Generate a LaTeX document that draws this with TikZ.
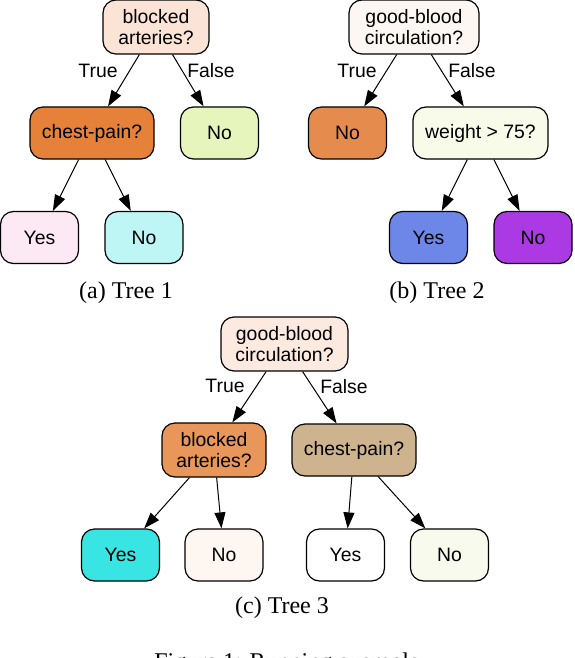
\documentclass[tikz,border=0pt]{standalone}
\usepackage{fontspec}
\setmainfont{Liberation Serif}
\setsansfont{Liberation Sans}
\usepackage{tikz}
\usetikzlibrary{arrows.meta,positioning}
\definecolor{peachA}{RGB}{251,228,214}
\definecolor{orangeA}{RGB}{229,129,57}
\definecolor{greenA}{RGB}{229,245,188}
\definecolor{pinkA}{RGB}{253,233,243}
\definecolor{cyanA}{RGB}{189,246,244}
\definecolor{peachB}{RGB}{253,247,243}
\definecolor{orangeB}{RGB}{230,139,78}
\definecolor{greenB}{RGB}{248,251,234}
\definecolor{blueB}{RGB}{108,135,232}
\definecolor{purpleB}{RGB}{172,58,228}
\definecolor{peachC}{RGB}{252,234,224}
\definecolor{orangeC}{RGB}{233,150,90}
\definecolor{tanC}{RGB}{205,179,142}
\definecolor{cyanC}{RGB}{57,229,226}
\definecolor{creamC}{RGB}{253,246,241}
\definecolor{greenC}{RGB}{247,250,236}

\begin{document}
\begin{tikzpicture}[
  x=0.5pt, y=-0.5pt,
  font=\sffamily\fontsize{9.7}{10.8}\selectfont,
  tn/.style={rectangle, draw, line width=0.6pt, rounded corners=6.5pt,
             minimum height=26pt, inner sep=2pt, align=center},
  leaf/.style={tn, minimum width=39pt},
  lbl/.style={inner sep=0pt},
  subcap/.style={font=\rmfamily\fontsize{12}{14}\selectfont, inner sep=0pt},
  arr/.style={-{Triangle[length=8pt,width=5.5pt]}, line width=0.5pt}
]
  \useasboundingbox (0,0) rectangle (574,658);
  % tree 1
  \node[tn, fill=peachA, minimum width=53pt, minimum height=27pt] (r1) at (156,27) {blocked\\ arteries?};
  \node[tn, fill=orangeA, minimum width=62pt] (cp1) at (92,133) {chest-pain?};
  \node[leaf, fill=greenA] (no1) at (219.5,133) {No};
  \node[leaf, fill=pinkA] (yes1a) at (39.5,237.5) {Yes};
  \node[leaf, fill=cyanA] (no1a) at (144,237.5) {No};
  \draw[arr] (r1) -- (cp1);
  \draw[arr] (r1) -- (no1);
  \draw[arr] (cp1) -- (yes1a);
  \draw[arr] (cp1) -- (no1a);
  \node[lbl] (t1) at (98,71) {True};
  \node[lbl] (f1) at (211,71) {False};
  \node[subcap] (c1) at (126,293) {(a) Tree 1};
  % tree 2
  \node[tn, fill=peachB, minimum width=65pt, minimum height=27pt] (r2) at (414,27) {good-blood\\ circulation?};
  \node[leaf, fill=orangeB] (no2) at (347.5,133) {No};
  \node[tn, fill=greenB, minimum width=67.5pt] (w2) at (480.5,133) {weight > 75?};
  \node[leaf, fill=blueB] (yes2a) at (428.5,237.5) {Yes};
  \node[leaf, fill=purpleB] (no2a) at (533,237.5) {No};
  \draw[arr] (r2) -- (no2);
  \draw[arr] (r2) -- (w2);
  \draw[arr] (w2) -- (yes2a);
  \draw[arr] (w2) -- (no2a);
  \node[lbl] (t2) at (357,71) {True};
  \node[lbl] (f2) at (472,71) {False};
  \node[subcap] (c2) at (437,293) {(b) Tree 2};
  % tree 3
  \node[tn, fill=peachC, minimum width=63.5pt, minimum height=27pt] (r3) at (284.5,344) {good-blood\\ circulation?};
  \node[tn, fill=orangeC, minimum width=52pt, minimum height=27pt] (ba3) at (214,450) {blocked\\ arteries?};
  \node[tn, fill=tanC, minimum width=62pt] (cp3) at (354,450) {chest-pain?};
  \node[leaf, fill=cyanC] (yes3a) at (120.5,555) {Yes};
  \node[leaf, fill=creamC] (no3a) at (224,555) {No};
  \node[leaf, fill=white] (yes3b) at (345.5,555) {Yes};
  \node[leaf, fill=greenC] (no3b) at (449.5,555) {No};
  \draw[arr] (r3) -- (ba3);
  \draw[arr] (r3) -- (cp3);
  \draw[arr] (ba3) -- (yes3a);
  \draw[arr] (ba3) -- (no3a);
  \draw[arr] (cp3) -- (yes3b);
  \draw[arr] (cp3) -- (no3b);
  \node[lbl] (t3) at (225,386) {True};
  \node[lbl] (f3) at (344,387) {False};
  \node[subcap] (c3) at (282,608) {(c) Tree 3};
  % figure caption, cut by the page edge
  \node[subcap, anchor=base] (fig) at (287,669) {Figure 1: Running example};
\end{tikzpicture}
\end{document}
